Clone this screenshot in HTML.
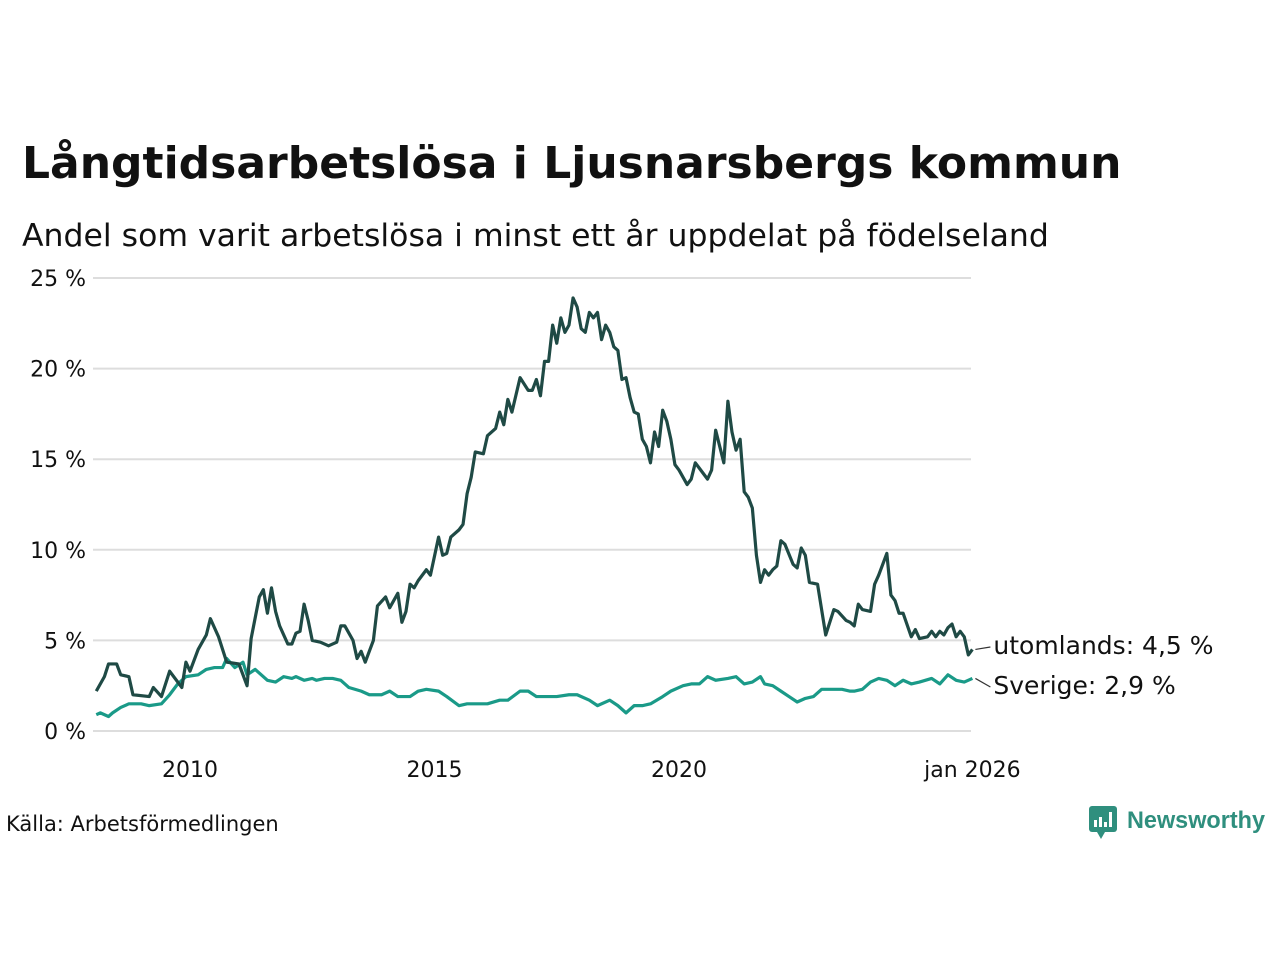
<!DOCTYPE html>
<html><head><meta charset="utf-8"><style>
body{margin:0;background:#fff;width:1280px;height:960px;overflow:hidden;font-family:"Liberation Sans","DejaVu Sans",sans-serif;}
svg text{font-family:"DejaVu Sans","Liberation Sans",sans-serif;}
</style></head><body>
<svg id="chart" width="1280" height="960">
<text x="22" y="178" font-size="44" font-weight="bold" fill="#111">Långtidsarbetslösa i Ljusnarsbergs kommun</text>
<text x="22" y="246" font-size="31.5" fill="#111">Andel som varit arbetslösa i minst ett år uppdelat på födelseland</text>
<g id="grid"></g><g id="series"></g>
<text x="6" y="831" font-size="21" fill="#111">Källa: Arbetsförmedlingen</text>
<g>
<rect x="1089" y="806" width="28" height="26" rx="3" fill="#2f8f7e"/>
<polygon points="1097,832 1105,832 1101,839" fill="#2f8f7e"/>
<rect x="1094" y="820" width="3" height="7" fill="#fff"/><rect x="1099" y="817" width="3" height="10" fill="#fff"/><rect x="1104" y="822" width="3" height="5" fill="#fff"/><rect x="1109" y="812" width="3" height="15" fill="#fff"/>
<text x="1127" y="828" font-size="24" font-weight="bold" fill="#2f8f7e" style="font-family:'Liberation Sans',sans-serif" textLength="138" lengthAdjust="spacingAndGlyphs">Newsworthy</text>
</g>
</svg>
<script>
const yTicks=[0,5,10,15,20,25];
const xTickYears=[2010,2015,2020];
const utoMonths=[1,3,4,6,7,9,10,14,15,17,19,22,23,24,26,28,29,31,33,36,38,39,41,42,43,44,45,46,48,49,50,51,52,53,54,56,58,60,61,62,64,65,66,67,69,70,72,73,75,76,77,78,79,80,82,83,85,86,87,88,90,91,92,93,94,96,97,99,100,101,102,103,105,107,108,109,110,111,112,113,114,115,116,117,118,119,120,121,122,123,124,125,126,127,128,129,130,131,132,133,134,135,136,137,138,139,140,141,142,143,144,146,147,148,149,151,152,153,155,156,157,158,159,160,161,162,163,164,165,166,167,168,169,170,172,173,174,175,176,178,180,182,183,185,186,187,188,189,191,192,193,195,196,197,198,199,201,202,203,205,206,207,208,209,210,211,212,213,214,215,216];
const utoValues=[2.2,3.0,3.7,3.7,3.1,3.0,2.0,1.9,2.4,1.9,3.3,2.4,3.8,3.3,4.5,5.3,6.2,5.2,3.8,3.7,2.5,5.1,7.4,7.8,6.5,7.9,6.6,5.8,4.8,4.8,5.4,5.5,7.0,6.1,5.0,4.9,4.7,4.9,5.8,5.8,5.0,4.0,4.4,3.8,5.0,6.9,7.4,6.8,7.6,6.0,6.6,8.1,7.9,8.3,8.9,8.6,10.7,9.7,9.8,10.7,11.1,11.4,13.1,14.0,15.4,15.3,16.3,16.7,17.6,16.9,18.3,17.6,19.5,18.8,18.8,19.4,18.5,20.4,20.4,22.4,21.4,22.8,22.0,22.4,23.9,23.4,22.2,22.0,23.1,22.8,23.1,21.6,22.4,22.0,21.2,21.0,19.4,19.5,18.4,17.6,17.5,16.1,15.7,14.8,16.5,15.7,17.7,17.1,16.1,14.7,14.4,13.6,13.9,14.8,14.5,13.9,14.4,16.6,14.8,18.2,16.5,15.5,16.1,13.2,12.9,12.3,9.7,8.2,8.9,8.6,8.9,9.1,10.5,10.3,9.2,9.0,10.1,9.7,8.2,8.1,5.3,6.7,6.6,6.1,6.0,5.8,7.0,6.7,6.6,8.1,8.6,9.8,7.5,7.2,6.5,6.5,5.2,5.6,5.1,5.2,5.5,5.2,5.5,5.3,5.7,5.9,5.2,5.5,5.2,4.2,4.5];
const sveMonths=[1,2,4,5,7,9,12,14,17,19,21,23,26,28,30,32,33,35,37,38,40,42,43,45,47,49,50,52,54,55,57,59,61,63,66,68,71,73,75,78,80,82,85,87,90,92,95,97,100,102,105,107,109,112,114,117,119,122,124,127,129,131,133,135,137,140,142,145,147,149,151,153,156,158,160,162,164,165,167,169,171,173,175,177,179,181,184,186,187,189,191,193,195,197,199,201,203,206,208,210,212,214,216];
const sveValues=[0.9,1.0,0.8,1.0,1.3,1.5,1.5,1.4,1.5,2.0,2.6,3.0,3.1,3.4,3.5,3.5,4.0,3.5,3.8,3.1,3.4,3.0,2.8,2.7,3.0,2.9,3.0,2.8,2.9,2.8,2.9,2.9,2.8,2.4,2.2,2.0,2.0,2.2,1.9,1.9,2.2,2.3,2.2,1.9,1.4,1.5,1.5,1.5,1.7,1.7,2.2,2.2,1.9,1.9,1.9,2.0,2.0,1.7,1.4,1.7,1.4,1.0,1.4,1.4,1.5,1.9,2.2,2.5,2.6,2.6,3.0,2.8,2.9,3.0,2.6,2.7,3.0,2.6,2.5,2.2,1.9,1.6,1.8,1.9,2.3,2.3,2.3,2.2,2.2,2.3,2.7,2.9,2.8,2.5,2.8,2.6,2.7,2.9,2.6,3.1,2.8,2.7,2.9];
const X0=92.2, PXM=48.9/12;
const xs=m=>X0+m*PXM;
const xYear=y=>190+(y-2010)*48.9;
const ys=v=>731-v*18.12;
const NS='http://www.w3.org/2000/svg';
const grid=document.getElementById('grid'), ser=document.getElementById('series');
function mk(tag,attrs,parent){const e=document.createElementNS(NS,tag);for(const k in attrs)e.setAttribute(k,attrs[k]);parent.appendChild(e);return e;}
yTicks.forEach(t=>{
  const l=mk('line',{x1:93,x2:971,y1:ys(t),y2:ys(t),stroke:'#ddd','stroke-width':2},grid);
  
  
  const tx=mk('text',{x:86,y:ys(t)+8,'text-anchor':'end','font-size':22,fill:'#111'},grid);
  tx.textContent=t+' %';
  
  
});
xTickYears.forEach(y=>{
  const tx=mk('text',{x:xYear(y),y:777,'text-anchor':'middle','font-size':22,fill:'#111'},grid);
  tx.textContent=String(y);
  
  
});
const lt=mk('text',{x:xs(216),y:777,'text-anchor':'middle','font-size':22,fill:'#111'},grid);
lt.textContent='jan 2026';


function line(months,vals,color,name){
  const p=mk('polyline',{points:months.map((m,i)=>xs(m)+','+ys(vals[i])).join(' '),fill:'none',stroke:color,'stroke-width':3.2,'stroke-linejoin':'round'},ser);
  
  
}
line(sveMonths,sveValues,'#1a9a88','line-sverige');
line(utoMonths,utoValues,'#1f4a45','line-utomlands');
function label(months,vals,txt,ly,name){
  const lx=xs(months[months.length-1]), vy=ys(vals[vals.length-1]);
  mk('line',{x1:lx+3,y1:vy,x2:lx+18,y2:ly-7,stroke:'#333','stroke-width':1.2},ser);
  const t=mk('text',{x:lx+21,y:ly,'font-size':25,fill:'#111'},ser);
  t.textContent=txt;
  
  
}
label(utoMonths,utoValues,'utomlands: 4,5 %',654,'label-utomlands');
label(sveMonths,sveValues,'Sverige: 2,9 %',694,'label-sverige');
</script>
</body></html>
